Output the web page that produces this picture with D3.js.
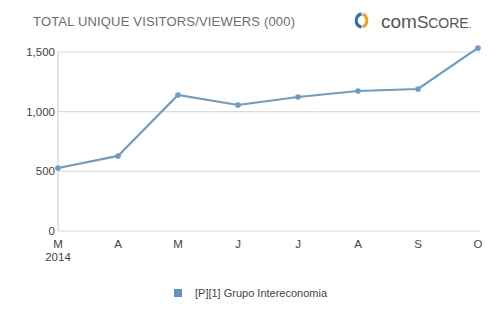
<!DOCTYPE html>
<html>
<head>
<meta charset="utf-8">
<script src="https://cdn.jsdelivr.net/npm/d3@7"></script>
<style>
  body { margin: 0; background: #fff; }
  svg { display: block; font-family: "Liberation Sans", Arial, sans-serif; }
</style>
</head>
<body>
<div id="chart"></div>
<script>
const months = ["M", "A", "M", "J", "J", "A", "S", "O"];
const visitors = [528, 629, 1140, 1056, 1123, 1173, 1190, 1534];
const yTicks = [0, 500, 1000, 1500];
const seriesName = "[P][1] Grupo Intereconomia";

let width = 500, height = 312;
let lineColor = "#6f9cc4";

let svg = d3.select("#chart").append("svg")
    .attr("width", width)
    .attr("height", height);

let x = d3.scalePoint()
    .domain(d3.range(months.length))
    .range([58, 478]);

let y = d3.scaleLinear()
    .domain([0, 1500])
    .range([231, 52]);

// title
svg.append("text")
    .attr("x", 33).attr("y", 26)
    .attr("fill", "#6d6d6d")
    .attr("font-size", 13)
    .attr("textLength", 262)
    .text("TOTAL UNIQUE  VISITORS/VIEWERS  (000)");

// logo
let logo = svg.append("g").attr("transform", "translate(361.5,20.5) scale(0.85,1)");
logo.append("path")
    .attr("d", d3.arc()({innerRadius: 4.5, outerRadius: 8, startAngle: 0.2, endAngle: Math.PI - 0.2}))
    .attr("fill", "#e8a321");
logo.append("path")
    .attr("d", d3.arc()({innerRadius: 4.5, outerRadius: 8, startAngle: Math.PI, endAngle: 2 * Math.PI}))
    .attr("fill", "#2f6fb0");
let brand = svg.append("text")
    .attr("x", 381).attr("y", 28)
    .attr("fill", "#555");
brand.append("tspan").attr("font-size", 19).text("com");
brand.append("tspan").attr("font-size", 17).text("S");
brand.append("tspan").attr("font-size", 14).text("CORE");
brand.append("tspan").attr("font-size", 10).text(".");

// grid
svg.append("g").selectAll("line")
    .data(yTicks)
    .join("line")
    .attr("x1", 58).attr("x2", 480)
    .attr("y1", d => y(d)).attr("y2", d => y(d))
    .attr("stroke", "#dcdcdc")
    .attr("stroke-width", 1.2);

svg.append("line")
    .attr("x1", 58).attr("x2", 58)
    .attr("y1", y(1500)).attr("y2", y(0))
    .attr("stroke", "#d6d6d6")
    .attr("stroke-width", 1.2);

// y labels
svg.append("g").selectAll("text")
    .data(yTicks)
    .join("text")
    .attr("x", 55)
    .attr("y", d => y(d) + 4)
    .attr("text-anchor", "end")
    .attr("font-size", 11.5)
    .attr("fill", "#444")
    .text(d => d3.format(",")(d));

// x labels
svg.append("g").selectAll("text")
    .data(months)
    .join("text")
    .attr("x", (d, i) => x(i))
    .attr("y", 248)
    .attr("text-anchor", "middle")
    .attr("font-size", 11.5)
    .attr("fill", "#444")
    .text(d => d);

svg.append("text")
    .attr("x", x(0)).attr("y", 261)
    .attr("text-anchor", "middle")
    .attr("font-size", 11.5)
    .attr("fill", "#444")
    .text("2014");

// line
let line = d3.line()
    .x((d, i) => x(i))
    .y(d => y(d));

svg.append("path")
    .datum(visitors)
    .attr("d", line)
    .attr("fill", "none")
    .attr("stroke", lineColor)
    .attr("stroke-width", 2.2);

svg.append("g").selectAll("circle")
    .data(visitors)
    .join("circle")
    .attr("cx", (d, i) => x(i))
    .attr("cy", d => y(d))
    .attr("r", 2.8)
    .attr("fill", lineColor);

// legend
svg.append("rect")
    .attr("x", 174).attr("y", 289)
    .attr("width", 8).attr("height", 8)
    .attr("fill", "#5f93c4");
svg.append("text")
    .attr("x", 195).attr("y", 297)
    .attr("font-size", 11)
    .attr("fill", "#444")
    .text(seriesName);
</script>
</body>
</html>
